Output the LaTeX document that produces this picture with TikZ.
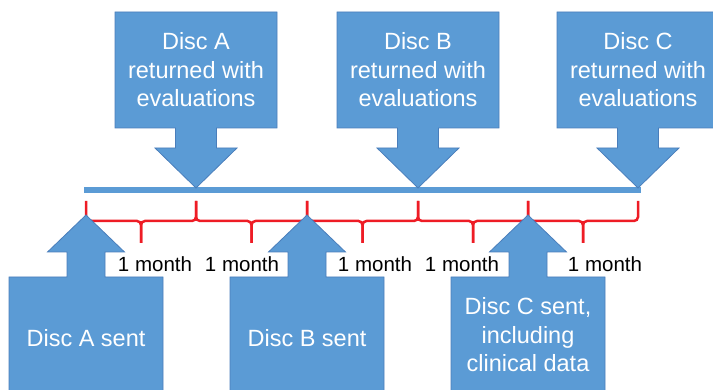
\documentclass[tikz,border=0pt]{standalone}
\usepackage{fontspec}
\setmainfont{Liberation Sans}
\usetikzlibrary{calc}
\definecolor{discblue}{HTML}{5B9BD5}
\definecolor{discedge}{HTML}{4A7EBB}
\definecolor{bracered}{HTML}{EE1C25}

\tikzset{
  callout/.style={fill=discblue, draw=discedge, line width=0.8pt},
  disctext/.style={text=white, align=center, inner sep=0pt,
    font=\fontsize{23.5}{28.5}\selectfont},
  monthlabel/.style={inner sep=0pt, font=\fontsize{20.5}{24}\selectfont},
  monthbrace/.style={draw=bracered, line width=2.5pt, rounded corners=4pt},
}

\begin{document}
\begin{tikzpicture}[x=1pt, y=-1pt]
  \useasboundingbox (0,0) rectangle (713,390);
  \clip (0,0) rectangle (713,390);

  % Timeline
  \coordinate (barL) at (84,190);
  \coordinate (barR) at (641,190);
  \draw[discblue, line width=6pt] (barL) -- (barR);

  % Tick points, one month apart
  \foreach \x [count=\i from 0] in {86,196,307,418,528,638}
    \coordinate (t\i) at (\x,201);

  % Month braces
  \foreach \i [evaluate=\i as \j using int(\i+1)] in {0,...,4}{
    \coordinate (mid\i) at ($(t\i)!0.5!(t\j)+(0,20)$);
    \draw[monthbrace] (t\i) |- (mid\i) -- ++(0,22);
    \draw[monthbrace] (t\j) |- (mid\i) -- ++(0,22);
  }

  % Returned discs (above the line)
  \foreach \x/\l in {196/A, 418/B, 638/C}{
    \draw[callout] (\x-81,12) -- (\x+81,12) -- (\x+81,128) -- (\x+20.5,128)
      -- (\x+20.5,148) -- (\x+41,148) -- (\x,188) -- (\x-41,148)
      -- (\x-20.5,148) -- (\x-20.5,128) -- (\x-81,128) -- cycle;
    \node[disctext] (ret\l) at (\x,70) {Disc \l\\returned with\\evaluations};
  }

  % Sent discs (below the line)
  \foreach \x in {86,307,528}
    \draw[callout] (\x,215) -- (\x+38.5,252) -- (\x+19,252) -- (\x+19,277)
      -- (\x+77,277) -- (\x+77,400) -- (\x-77,400) -- (\x-77,277)
      -- (\x-19,277) -- (\x-19,252) -- (\x-38.5,252) -- cycle;
  \node[disctext] (sentA) at (86,338.6) {Disc A sent};
  \node[disctext] (sentB) at (307,338.6) {Disc B sent};
  \node[disctext] (sentC) at (528,335) {Disc C sent,\\including\\clinical data};

  % Month labels
  \node[monthlabel] (month1) at (155,264) {1 month};
  \node[monthlabel] (month2) at (242,264) {1 month};
  \node[monthlabel] (month3) at (375,264) {1 month};
  \node[monthlabel] (month4) at (462,264) {1 month};
  \node[monthlabel] (month5) at (605,264) {1 month};
\end{tikzpicture}
\end{document}
